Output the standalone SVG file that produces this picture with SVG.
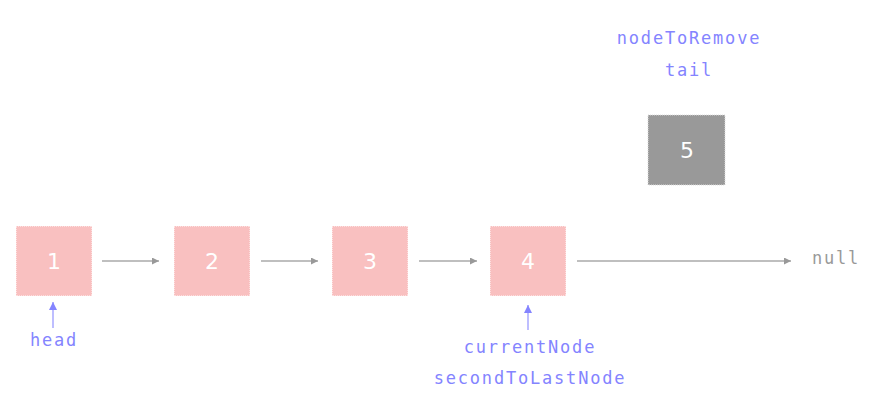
<svg xmlns="http://www.w3.org/2000/svg" width="880" height="400" viewBox="0 0 880 400">
<style>
.box{fill:#f9c0c0;stroke:#fff;stroke-width:1;stroke-dasharray:1 1}
.gbox{fill:#999999;stroke:#ddd;stroke-width:1;stroke-dasharray:1 1}
.num{font-family:"DejaVu Sans","Liberation Sans",sans-serif;font-size:22px;fill:#fff;text-anchor:middle}
.lbl{font-family:"DejaVu Sans Mono","Liberation Mono",monospace;font-size:17px;letter-spacing:1.8px;fill:#8484ff;text-anchor:middle}
.nul{font-family:"DejaVu Sans Mono","Liberation Mono",monospace;font-size:17px;letter-spacing:1.8px;fill:#999}
.conn{stroke:#aaa;stroke-width:1.3;fill:none;marker-end:url(#ag)}
.ptr{stroke:#a8a8ff;stroke-width:1.5;fill:none;marker-end:url(#ab)}
</style>
<defs>
<marker id="ag" viewBox="0 0 10 10" refX="10" refY="5" markerWidth="7" markerHeight="7" markerUnits="userSpaceOnUse" orient="auto"><path d="M0,0L10,5L0,10z" fill="#999"/></marker>
<marker id="ab" viewBox="0 0 10 10" refX="10" refY="5" markerWidth="8" markerHeight="9" markerUnits="userSpaceOnUse" orient="auto"><path d="M0,0L10,5L0,10z" fill="#8484ff"/></marker>
</defs>
<rect width="880" height="400" fill="#fff"/>
<g id="connectors">
<line class="conn" x1="102" y1="261" x2="159" y2="261"/>
<line class="conn" x1="261" y1="261" x2="318" y2="261"/>
<line class="conn" x1="419" y1="261" x2="477" y2="261"/>
<line class="conn" x1="577" y1="261" x2="791" y2="261"/>
<line class="ptr" x1="53" y1="328" x2="53" y2="302"/>
<line class="ptr" x1="528" y1="330" x2="528" y2="305"/>
</g>
<g id="node1"><rect class="box" x="16" y="226" width="76" height="70"/><text class="num" x="54" y="269">1</text></g>
<g id="node2"><rect class="box" x="174" y="226" width="76" height="70"/><text class="num" x="212" y="269">2</text></g>
<g id="node3"><rect class="box" x="332" y="226" width="76" height="70"/><text class="num" x="370" y="269">3</text></g>
<g id="node4"><rect class="box" x="490" y="226" width="76" height="70"/><text class="num" x="528" y="269">4</text></g>
<g id="node5"><rect class="gbox" x="648" y="115" width="77" height="70"/><text class="num" x="687" y="158">5</text></g>
<g id="null"><text class="nul" x="812" y="264">null</text></g>
<g id="labels">
<text class="lbl" x="54" y="346">head</text>
<text class="lbl" x="530" y="353">currentNode</text>
<text class="lbl" x="530" y="384">secondToLastNode</text>
<text class="lbl" x="689" y="44">nodeToRemove</text>
<text class="lbl" x="689" y="76">tail</text>
</g>
</svg>
